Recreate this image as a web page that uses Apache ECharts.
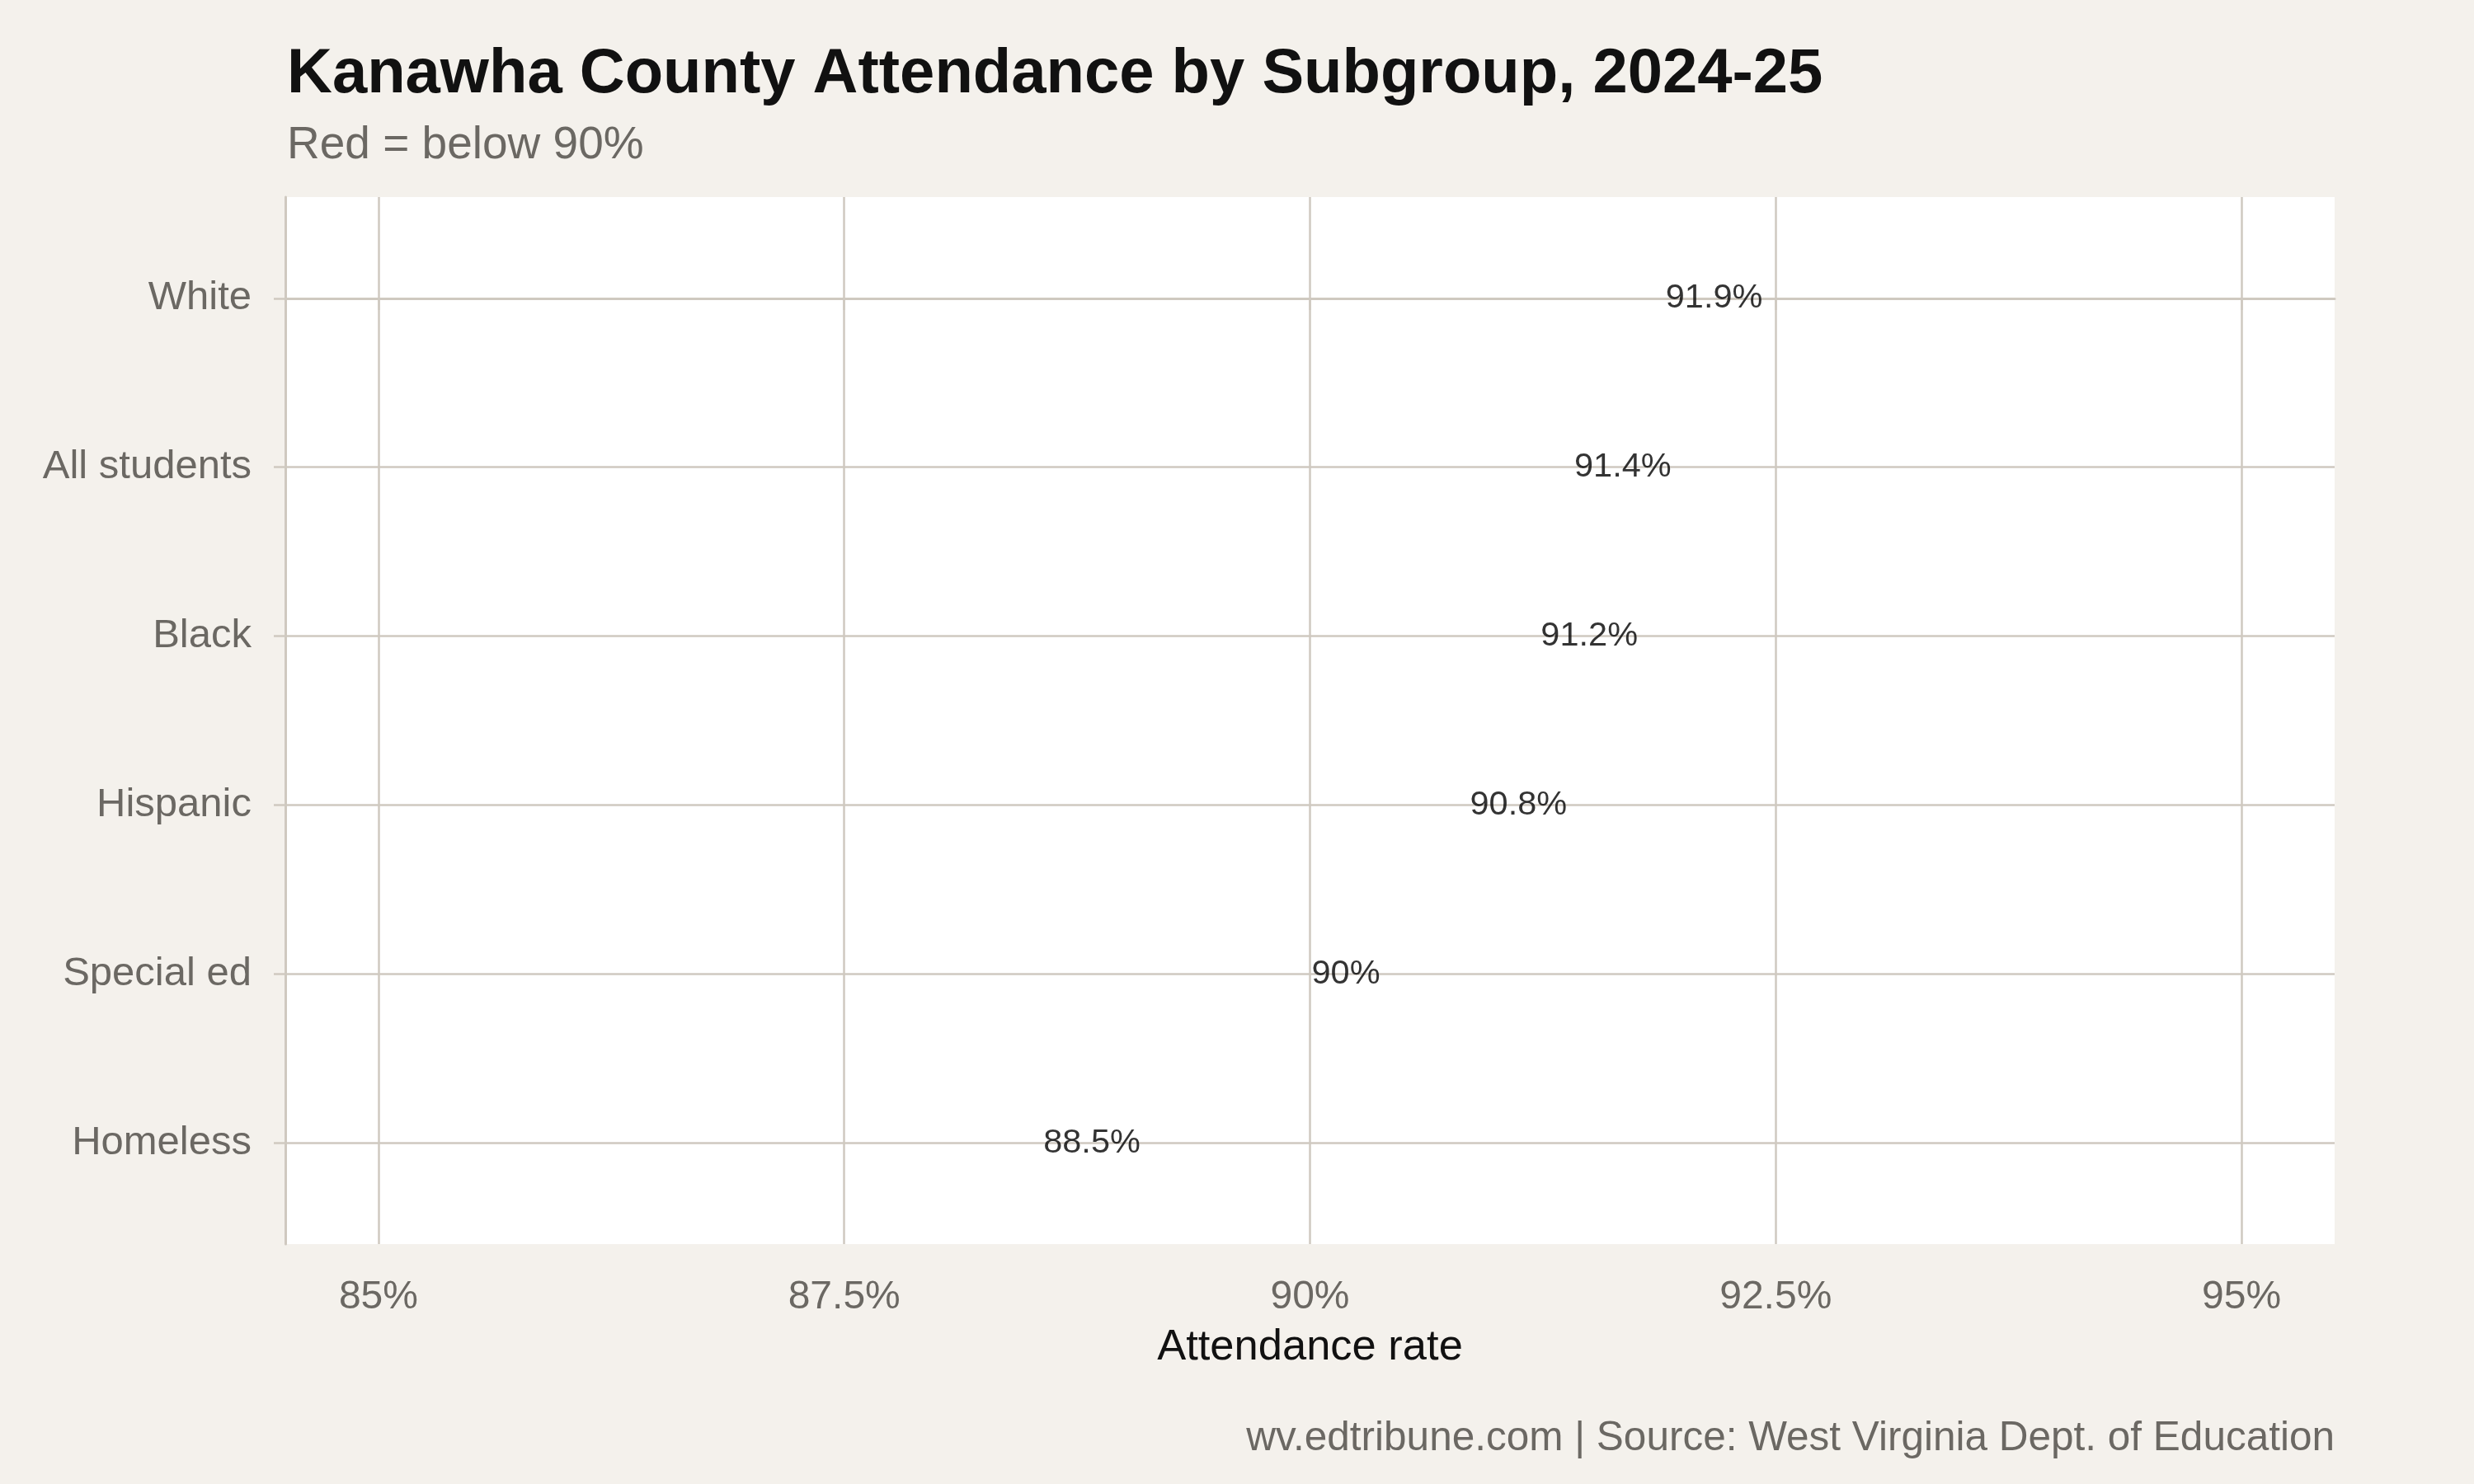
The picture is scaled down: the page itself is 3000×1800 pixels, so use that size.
<!DOCTYPE html>
<html>
<head>
<meta charset="utf-8">
<script src="https://cdn.jsdelivr.net/npm/echarts@6/dist/echarts.min.js"></script>
<style>
html,body{margin:0;padding:0;background:#f4f1ec;}
#chart{width:3000px;height:1800px;}
</style>
</head>
<body>
<div id="chart"></div>
<script>
// Data
const categories = ["White", "All students", "Black", "Hispanic", "Special ed", "Homeless"];
const attendance = [91.9, 91.41, 91.23, 90.85, 90.0, 88.56];
const valueLabels = ["91.9%", "91.4%", "91.2%", "90.8%", "90%", "88.5%"];
const xTicks = [85, 87.5, 90, 92.5, 95];
const xTickLabels = ["85%", "87.5%", "90%", "92.5%", "95%"];

const FONT = '"Liberation Sans", Arial, Helvetica, sans-serif';
const GRID = '#cfc9c0';
const GREY = '#6b6863';

const catIdx = categories.map((c, i) => i);

const chart = echarts.init(document.getElementById('chart'), null, {renderer: 'canvas'});
chart.setOption({
  backgroundColor: '#f4f1ec',
  animation: false,
  textStyle: {fontFamily: FONT},
  title: [
    {text: 'Kanawha County Attendance by Subgroup, 2024-25', left: 348, top: 53, padding: 0,
     textStyle: {fontFamily: FONT, fontSize: 76, fontWeight: 'bold', color: '#111111', lineHeight: 76}},
    {text: 'Red = below 90%', left: 348, top: 149, padding: 0,
     textStyle: {fontFamily: FONT, fontSize: 55, fontWeight: 'normal', color: GREY, lineHeight: 55}},
    {text: 'wv.edtribune.com | Source: West Virginia Dept. of Education', right: 169, top: 1720, padding: 0,
     textStyle: {fontFamily: FONT, fontSize: 49.5, fontWeight: 'normal', color: GREY, lineHeight: 50}}
  ],
  grid: {left: 346, right: 169, top: 239, bottom: 291, show: true, backgroundColor: '#ffffff', borderWidth: 0, containLabel: false},
  xAxis: {
    type: 'value', min: 84.5, max: 95.5,
    name: 'Attendance rate', nameLocation: 'middle', nameGap: 100,
    nameTextStyle: {fontFamily: FONT, fontSize: 52.5, color: '#111111', lineHeight: 52},
    axisLine: {show: true, lineStyle: {color: GRID, width: 3}},
    axisTick: {show: true, length: 14, customValues: xTicks, lineStyle: {color: GRID, width: 2.5}},
    axisLabel: {show: true, customValues: xTicks, margin: 41, fontFamily: FONT, fontSize: 48, color: GREY,
      formatter: v => xTickLabels[xTicks.indexOf(v)] || ''},
    splitLine: {show: true, lineStyle: {color: GRID, width: 2.5}}
  },
  yAxis: {
    type: 'value', min: -0.6, max: 5.6, inverse: true,
    axisLine: {show: true, lineStyle: {color: GRID, width: 3}},
    axisTick: {show: true, length: 14, customValues: catIdx, lineStyle: {color: GRID, width: 2.5}},
    axisLabel: {show: true, customValues: catIdx, margin: 41, fontFamily: FONT, fontSize: 49, color: GREY,
      formatter: v => categories[Math.round(v)] || ''},
    splitLine: {show: true, lineStyle: {color: GRID, width: 2.5}}
  },
  series: [{
    type: 'scatter',
    data: attendance.map((v, i) => [v, i]),
    symbol: 'circle', symbolSize: 0,
    itemStyle: {color: 'rgba(0,0,0,0)'},
    label: {show: true, position: 'right', distance: 2, fontFamily: FONT, fontSize: 41.5, color: '#000000',
      formatter: p => valueLabels[p.dataIndex]},
    silent: true
  }]
});
</script>
</body>
</html>
